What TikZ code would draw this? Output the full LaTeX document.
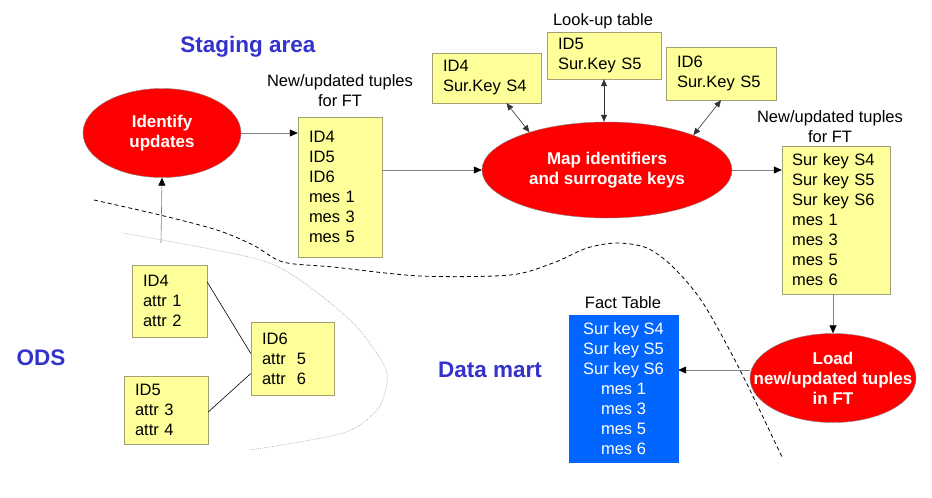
\documentclass[tikz,border=0pt]{standalone}
\usepackage{fontspec}
\setmainfont{Liberation Sans}
\usetikzlibrary{shapes.geometric,arrows.meta}
\definecolor{boxfill}{HTML}{FFFF99}
\definecolor{boxline}{HTML}{A0A070}
\definecolor{titleblue}{HTML}{3333CC}
\definecolor{factblue}{HTML}{0066FF}
\begin{document}
\begin{tikzpicture}[x=1pt, y=-1pt,
	tuplebox/.style={draw=boxline, fill=boxfill, align=left, inner xsep=11pt, inner ysep=0pt, font=\fontsize{16.5}{20}\selectfont},
	proc/.style={ellipse, draw=gray, fill=red, inner sep=0pt},
	proctext/.style={text=white, align=center, font=\bfseries\fontsize{17}{20}\selectfont},
	areatitle/.style={text=titleblue, font=\bfseries\fontsize{22.5}{26}\selectfont},
	tablelabel/.style={align=center, font=\fontsize{16.5}{20}\selectfont},
	flow/.style={draw=gray, line width=0.6pt, -{Triangle[length=8pt,width=7pt,color=black]}},
	twoway/.style={draw=black!80, line width=0.6pt, {Triangle[length=7pt,width=6pt]}-{Triangle[length=7pt,width=6pt]}}]
			\useasboundingbox (0,0) rectangle (932,498);
			\draw [black, line width=0.8pt, dash pattern=on 4pt off 3pt] plot[smooth] coordinates {(94,200) (160,215) (217,230) (253,245) (283,262) (333,267) (420,276) (510,275) (553,263) (587,248) (617,243) (647,248) (673,267) (703,303) (740,370) (782,457)};
			\draw [gray!70, line width=0.5pt, dash pattern=on 1pt off 1pt] plot[smooth] coordinates {(123,233) (253,258) (300,280) (353,323) (383,363) (387,383) (377,410) (343,433) (250,450)};
			\node[areatitle] (staging) at (248,47) {Staging area};
			\node[areatitle] (ods) at (41,358) {ODS};
			\node[areatitle] (mart) at (490,370) {Data mart};
			\node[proc, minimum width=158pt, minimum height=89pt, label={[proctext]center:Identify\\updates}] (ident) at (162,133) {};
			\node[proc, minimum width=250pt, minimum height=96pt, label={[proctext]center:Map identifiers\\and surrogate keys}] (mapk) at (607,170) {};
			\node[proc, minimum width=166pt, minimum height=89pt, label={[proctext]center:Load\\new/updated tuples\\in FT}] (load) at (833,378) {};
			\node[tablelabel] (updlabel) at (340,91) {New/updated tuples\\for FT};
			\node[tuplebox, text width=62pt, minimum height=140pt] (upd) at (340,187) {ID4\\ID5\\ID6\\mes 1\\mes 3\\mes 5};
			\node[tablelabel] (lklabel) at (603,21) {Look-up table};
			\node[tuplebox, text width=87pt, minimum height=50pt] (lkA) at (486.5,78) {ID4\\Sur.Key S4};
			\node[tuplebox, text width=92pt, minimum height=47pt] (lkB) at (604,55.5) {ID5\\Sur.Key S5};
			\node[tuplebox, text width=88pt, minimum height=53pt] (lkC) at (721,73.5) {ID6\\Sur.Key S5};
			\node[tablelabel] (surlabel) at (830,127) {New/updated tuples\\for FT};
			\node[tuplebox, inner xsep=10pt, text width=88pt, minimum height=148pt] (sur) at (836,220) {Sur key S4\\Sur key S5\\Sur key S6\\mes 1\\mes 3\\mes 5\\mes 6};
			\node[tuplebox, text width=53pt, minimum height=72pt] (ods4) at (169.5,301) {ID4\\attr 1\\attr 2};
			\node[tuplebox, text width=62pt, minimum height=68pt] (ods5) at (166,410) {ID5\\attr 3\\attr 4};
			\node[tuplebox, text width=61pt, minimum height=73pt] (ods6) at (292.5,358.5) {ID6\\attr\ \ 5\\attr\ \ 6};
			\node[tablelabel] (factlabel) at (623,303) {Fact Table};
			\node[draw=factblue, fill=factblue, text=white, align=center, inner sep=0pt, minimum width=109pt, minimum height=147pt, font=\fontsize{16.5}{20}\selectfont] (fact) at (623.5,388.5) {Sur key S4\\Sur key S5\\Sur key S6\\mes 1\\mes 3\\mes 5\\mes 6};
			\coordinate (odsup) at (161,243);
			\draw [flow] (odsup) -- (ident.south);
			\draw [flow] (ident.east) -- (ident.east -| upd.west);
			\draw [flow] (mapk.west -| upd.east) -- (mapk.west);
			\draw [flow] (mapk.east) -- (mapk.east -| sur.west);
			\draw [flow] (load.north |- sur.south) -- (load.north);
			\draw [flow] ([yshift=8pt]load.west) -- ([yshift=8pt]load.west -| fact.east);
			\draw [twoway] ([xshift=20pt]lkA.south) -- (mapk.154);
			\draw [twoway] (lkB.south) -- (lkB.south |- mapk.north);
			\draw [twoway] (lkC.south) -- (mapk.22);
			\draw [black, line width=0.6pt] ([yshift=19pt]ods4.east) -- ([yshift=5pt]ods6.west);
			\draw [black, line width=0.6pt] ([yshift=-2pt]ods5.east) -- ([yshift=-15pt]ods6.west);
		\end{tikzpicture}
\end{document}
